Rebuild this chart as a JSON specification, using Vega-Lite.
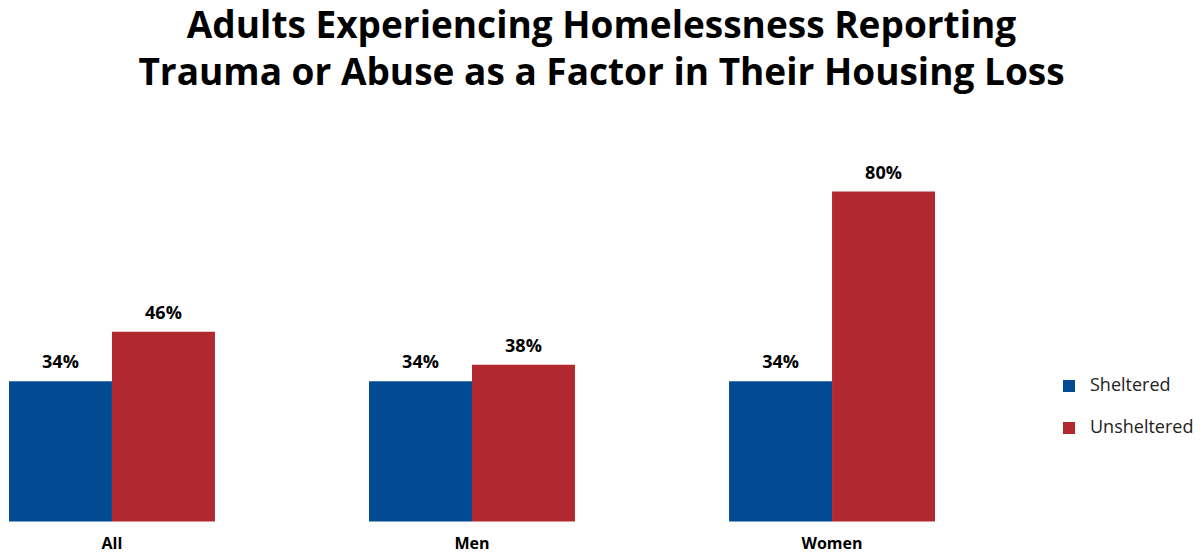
{
  "$schema": "https://vega.github.io/schema/vega-lite/v6.json",
  "width": 926,
  "height": 412.5,
  "autosize": {"type": "pad"},
  "padding": {"left": 9, "top": 8, "right": 0, "bottom": 0},
  "title": {
    "text": ["Adults Experiencing Homelessness Reporting", "Trauma or Abuse as a Factor in Their Housing Loss"],
    "font": "Open Sans",
    "fontSize": 37,
    "fontWeight": "bold",
    "lineHeight": 47,
    "frame": "bounds",
    "anchor": "middle",
    "offset": 16,
    "color": "#000000"
  },
  "data": {
    "values": [
      {"group": "All", "status": "Sheltered", "value": 0.34},
      {"group": "All", "status": "Unsheltered", "value": 0.46},
      {"group": "Men", "status": "Sheltered", "value": 0.34},
      {"group": "Men", "status": "Unsheltered", "value": 0.38},
      {"group": "Women", "status": "Sheltered", "value": 0.34},
      {"group": "Women", "status": "Unsheltered", "value": 0.80}
    ]
  },
  "encoding": {
    "x": {
      "field": "group",
      "type": "nominal",
      "sort": ["All", "Men", "Women"],
      "scale": {"paddingInner": 0.428, "paddingOuter": 0},
      "axis": {
        "title": null,
        "labelAngle": 0,
        "domain": false,
        "ticks": false,
        "labelFont": "Open Sans",
        "labelFontWeight": "bold",
        "labelFontSize": 16,
        "labelColor": "#000000",
        "labelPadding": 14
      }
    },
    "xOffset": {
      "field": "status",
      "type": "nominal",
      "sort": ["Sheltered", "Unsheltered"],
      "scale": {"paddingInner": 0, "paddingOuter": 0}
    },
    "y": {
      "field": "value",
      "type": "quantitative",
      "scale": {"domain": [0, 1]},
      "axis": null
    }
  },
  "layer": [
    {
      "mark": {"type": "bar"},
      "encoding": {
        "color": {
          "field": "status",
          "type": "nominal",
          "sort": ["Sheltered", "Unsheltered"],
          "scale": {"domain": ["Sheltered", "Unsheltered"], "range": ["#024B93", "#B1282E"]},
          "legend": {
            "title": null,
            "orient": "none",
            "legendX": 1051,
            "legendY": 268,
            "padding": 0,
            "symbolType": "square",
            "symbolSize": 144,
            "symbolStrokeWidth": 0,
            "labelFont": "Open Sans",
            "labelFontSize": 18,
            "labelColor": "#222222",
            "labelOffset": 12,
            "rowPadding": 24
          }
        }
      }
    },
    {
      "mark": {
        "type": "text",
        "baseline": "bottom",
        "dy": -9,
        "font": "Open Sans",
        "fontWeight": "bold",
        "fontSize": 18,
        "color": "#000000"
      },
      "encoding": {
        "text": {"field": "value", "type": "quantitative", "format": ".0%"}
      }
    }
  ],
  "config": {"view": {"stroke": null}}
}
